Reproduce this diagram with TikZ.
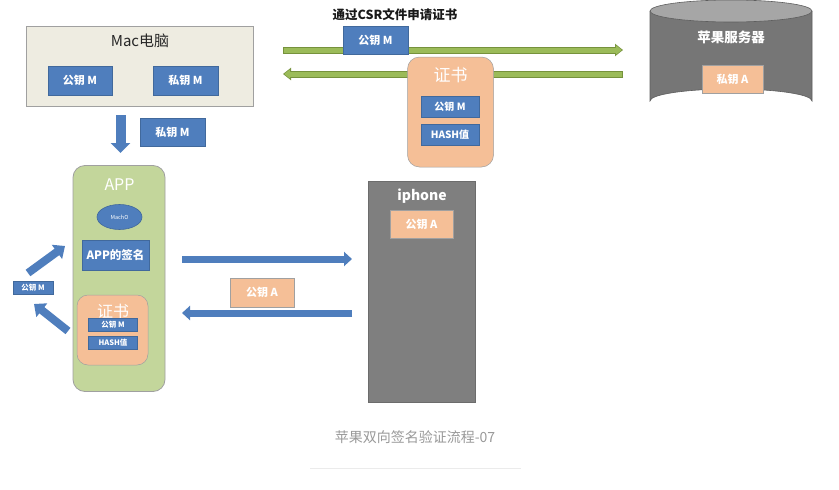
\documentclass[tikz,border=0pt]{standalone}
\usepackage{fontspec}
\setmainfont{Noto Sans CJK SC}
\usetikzlibrary{arrows.meta,shapes.geometric}
\definecolor{bbox}{HTML}{4F7EBD}
\definecolor{bline}{HTML}{41699C}
\definecolor{obox}{HTML}{F5BF97}
\definecolor{oline}{HTML}{A0A0A0}
\definecolor{gapp}{HTML}{C3D69B}
\definecolor{garr}{HTML}{9BBB59}
\definecolor{garrd}{HTML}{76923C}
\definecolor{beige}{HTML}{EEECE1}
\definecolor{phone}{HTML}{7F7F7F}
\definecolor{cylb}{HTML}{767676}
\definecolor{cylt}{HTML}{A6A6A6}
\definecolor{capg}{HTML}{999999}
\tikzset{
  fs/.style={font=\fontsize{#1}{#1}\selectfont},
  fsb/.style={font=\fontsize{#1}{#1}\selectfont\bfseries},
  bluebox/.style={fill=bbox,draw=bline,line width=0.6pt,text=white,inner sep=0pt},
  orangebox/.style={fill=obox,draw=oline,line width=0.5pt,text=white,inner sep=0pt},
  blockarrow/.style={draw=bbox,line width=#1},
  bluetip/.style={-{Triangle[length=8pt,width=14pt]}},
}
\begin{document}
\begin{tikzpicture}[x=1pt,y=-1pt]
\useasboundingbox[fill=white] (0,0) rectangle (839,490);

% ---------- green arrows (behind boxes)
\coordinate (g1s) at (283,50);
\coordinate (g1e) at (623,50);
\coordinate (g2s) at (623,74);
\coordinate (g2e) at (283,74);
\draw[draw=garrd,line width=7pt,-{Triangle[length=8pt,width=12pt]}] (g1s) -- (g1e);
\draw[draw=garr,line width=5pt,-{Triangle[length=6pt,width=9pt]},shorten >=1.2pt] (g1s) ++(0.8,0) -- (g1e);
\draw[draw=garrd,line width=7pt,-{Triangle[length=8pt,width=12pt]}] (g2s) -- (g2e);
\draw[draw=garr,line width=5pt,-{Triangle[length=6pt,width=9pt]},shorten >=1.2pt] (g2s) ++(-0.8,0) -- (g2e);

% ---------- Mac box
\node[fill=beige,draw=oline,line width=0.8pt,minimum width=227pt,minimum height=80pt,inner sep=0pt] (mac) at (140,66) {};
\node[fs=15,text=black!85] (mactitle) at (140,41) {Mac电脑};
\node[bluebox,minimum width=64pt,minimum height=29pt,fsb=11] (macpub) at (80,80.5) {公钥 M};
\node[bluebox,minimum width=65pt,minimum height=29pt,fsb=11] (macpriv) at (185.5,80.5) {私钥 M};

% down arrow
\coordinate (dA) at (120.5,115);
\coordinate (dB) at (120.5,153);
\draw[blockarrow=10pt,-{Triangle[length=10pt,width=19pt]}] (dA) -- (dB);
\node[bluebox,minimum width=65pt,minimum height=28pt,fsb=11] (privm2) at (172.5,132) {私钥 M};

% ---------- top label and cert
\node[fsb=12.5,text=black!90] (csr) at (395,15) {通过CSR文件申请证书};
\node[bluebox,minimum width=65pt,minimum height=28pt,fsb=11] (pubm) at (375.5,40) {公钥 M};
\node[orangebox,rounded corners=12pt,minimum width=86pt,minimum height=110pt] (cert) at (450.5,112) {};
\node[fs=17,text=white] (certt) at (450.5,75) {证书};
\node[bluebox,minimum width=58pt,minimum height=21pt,fsb=10] (certpub) at (450,106.5) {公钥 M};
\node[bluebox,minimum width=58pt,minimum height=21pt,fsb=10] (certhash) at (450,134.5) {HASH值};

% ---------- server cylinder
\fill[cylb] (650,11) -- (650,101) arc[start angle=180,end angle=360,x radius=81,y radius=12] -- (812,11) -- cycle;
\draw[draw=cylb!80!black,line width=0.6pt] (650,11) -- (650,101) arc[start angle=180,end angle=360,x radius=81,y radius=12] -- (812,11);
\draw[fill=cylt,draw=cylb!80!black,line width=0.6pt] (731,11) ellipse[x radius=81,y radius=11];
\node[fsb=13.5,text=white] (srvt) at (731,37) {苹果服务器};
\node[orangebox,minimum width=61pt,minimum height=28pt,fsb=11] (srvpriv) at (732.5,79) {私钥 A};

% ---------- APP
\node[fill=gapp,draw=oline,line width=0.8pt,rounded corners=12pt,minimum width=92pt,minimum height=226pt,inner sep=0pt] (app) at (119,278.5) {};
\node[fs=16,text=white] (appt) at (119.5,185) {APP};
\node[ellipse,fill=bbox,draw=bline,line width=0.6pt,minimum width=45pt,minimum height=25pt,inner sep=0pt,text=white,fs=5.5] (macho) at (119.5,217) {MachO};
\node[bluebox,minimum width=67pt,minimum height=30pt,fsb=11.5] (appsig) at (115.5,255) {APP的签名};
\node[orangebox,rounded corners=11pt,minimum width=71pt,minimum height=70pt] (appcert) at (112.5,330) {};
\node[fs=16,text=white] (appcertt) at (113,311) {证书};
\node[bluebox,minimum width=49pt,minimum height=13pt,fsb=7.5] (apppub) at (113,325) {公钥 M};
\node[bluebox,minimum width=49pt,minimum height=13pt,fsb=7.5] (apphash) at (113,343) {HASH值};

% left small key and arrows
\node[bluebox,minimum width=40pt,minimum height=13pt,fsb=7.5] (leftpub) at (33,287.5) {公钥 M};
\coordinate (u1) at (28,273);
\coordinate (u2) at (65,246);
\coordinate (l1) at (68,331);
\coordinate (l2) at (34,304);
\draw[blockarrow=8pt,-{Triangle[length=10pt,width=17pt]}] (u1) -- (u2);
\draw[blockarrow=8pt,-{Triangle[length=10pt,width=17pt]}] (l1) -- (l2);

% ---------- iphone
\node[fill=phone,draw=phone!85!black,line width=0.6pt,minimum width=107pt,minimum height=221pt,inner sep=0pt] (iphone) at (422,291.5) {};
\node[fsb=14,text=white] (iphonet) at (422,196) {iphone};
\node[orangebox,minimum width=63pt,minimum height=28pt,fsb=11] (phpub) at (421.5,224) {公钥 A};

% middle arrows
\coordinate (m1) at (182,259);
\coordinate (m2) at (352,259);
\coordinate (m3) at (352,313);
\coordinate (m4) at (182,313);
\draw[blockarrow=7pt,bluetip] (m1) -- (m2);
\draw[blockarrow=7pt,bluetip] (m3) -- (m4);
\node[orangebox,minimum width=64pt,minimum height=29pt,fsb=11] (midpub) at (262,292.5) {公钥 A};

% ---------- caption
\node[fs=14,text=capg] (cap) at (415,437) {苹果双向签名验证流程-07};
\coordinate (c1) at (310,468);
\coordinate (c2) at (521,468);
\draw[draw=black!8,line width=0.8pt] (c1) -- (c2);
\end{tikzpicture}
\end{document}
